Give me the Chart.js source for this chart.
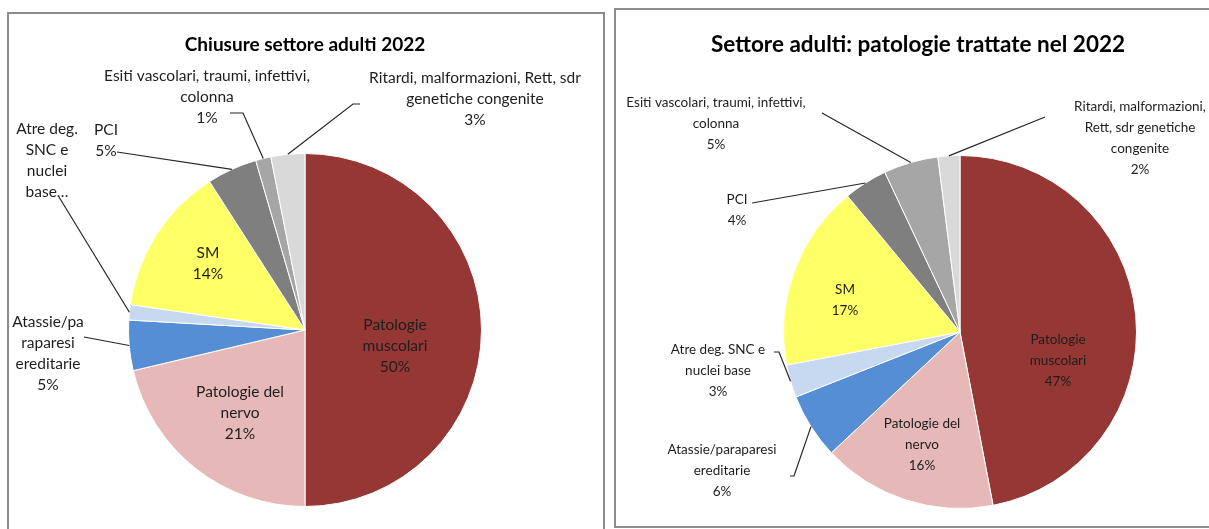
<!DOCTYPE html>
<html>
<head>
<meta charset="utf-8">
<script src="https://cdn.jsdelivr.net/npm/chart.js@4.4.0/dist/chart.umd.min.js"></script>
<style>
  body { margin: 0; background: #fff; overflow: hidden; }
  .panel { position: absolute; border: 2px solid #8c8c8c; box-sizing: border-box; }
  .wrap { position: absolute; top: 0; height: 529px; }
</style>
</head>
<body>
<div class="panel" style="left:7px; top:12px; width:598px; height:540px;"></div>
<div class="panel" style="left:614px; top:8px; width:610px; height:520px;"></div>
<div class="wrap" style="left:0; width:605px;"><canvas id="chiusure"></canvas></div>
<div class="wrap" style="left:605px; width:604px;"><canvas id="trattate"></canvas></div>
<script>
// categories (same order in both charts, clockwise from 12 o'clock)
const categories = [
  "Patologie muscolari",
  "Patologie del nervo",
  "Atassie/paraparesi ereditarie",
  "Atre deg. SNC e nuclei base",
  "SM",
  "PCI",
  "Esiti vascolari, traumi, infettivi, colonna",
  "Ritardi, malformazioni, Rett, sdr genetiche congenite"
];
// share of each category (%)
const chiusure2022 = [50, 21.3, 4.6, 1.4, 13.6, 4.6, 1.4, 3.1];
const trattate2022 = [47, 16, 6, 3, 17, 4, 5, 2];

const sliceColors = ["#953735", "#E6B9B8", "#558ED5", "#C6D9F1", "#FFFF66", "#7F7F7F", "#A6A6A6", "#D9D9D9"];

// label layout, offsets from the pie centre
const leftLabels = [
  { lines: ["Patologie", "muscolari"], dx: 90, dy: -5 },
  { lines: ["Patologie del", "nervo"], dx: -65, dy: 62 },
  { lines: ["Atassie/pa", "raparesi", "ereditarie"], dx: -257, dy: -8, leader: [[-221, 7]] },
  { lines: ["Atre deg.", "SNC e", "nuclei", "base…"], dx: -258, dy: -201, pct: false, leader: [[-246, -133]] },
  { lines: ["SM"], dx: -97, dy: -77 },
  { lines: ["PCI"], dx: -199, dy: -200, leader: [[-188, -178]] },
  { lines: ["Esiti vascolari, traumi, infettivi,", "colonna"], dx: -98, dy: -254, leader: [[-75, -217], [-62, -217]] },
  { lines: ["Ritardi, malformazioni, Rett, sdr", "genetiche congenite"], dx: 170, dy: -252, leader: [[55, -226], [48, -226]] }
];
const rightLabels = [
  { lines: ["Patologie", "muscolari"], dx: 98, dy: 8 },
  { lines: ["Patologie del", "nervo"], dx: -38, dy: 92 },
  { lines: ["Atassie/paraparesi", "ereditarie"], dx: -238, dy: 118, leader: [[-170, 144], [-166, 144]] },
  { lines: ["Atre deg. SNC e", "nuclei base"], dx: -242, dy: 18, leader: [[-186, 20], [-181, 20]] },
  { lines: ["SM"], dx: -115, dy: -42 },
  { lines: ["PCI"], dx: -223, dy: -132, leader: [[-208, -129]] },
  { lines: ["Esiti vascolari, traumi, infettivi,", "colonna"], dx: -244, dy: -229, leader: [[-138, -219]] },
  { lines: ["Ritardi, malformazioni,", "Rett, sdr genetiche", "congenite"], dx: 180, dy: -225, leader: [[85, -215]] }
];

const pieLabels = {
  id: "pieLabels",
  afterDatasetsDraw(chart, args, opts) {
    const ctx = chart.ctx;
    const meta = chart.getDatasetMeta(0);
    const values = chart.data.datasets[0].data;
    const total = values.reduce((a, b) => a + b, 0);
    ctx.save();
    ctx.textAlign = "center";
    ctx.textBaseline = "middle";
    ctx.fillStyle = "#000";
    ctx.font = "bold " + opts.titleSize + "px Lato";
    ctx.fillText(opts.title, opts.titleX, 45);

    ctx.font = opts.labelSize + "px Lato";
    ctx.fillStyle = "#1e1e1e";
    ctx.strokeStyle = "#262626";
    ctx.lineWidth = 1.2;
    opts.labels.forEach((lab, i) => {
      const arc = meta.data[i];
      const cx = arc.x, cy = arc.y;
      const lines = lab.lines.slice();
      if (lab.pct !== false) lines.push(Math.round(values[i] / total * 100) + "%");
      lines.forEach((t, k) => ctx.fillText(t, cx + lab.dx, cy + lab.dy + k * 21));
      if (lab.leader) {
        const mid = (arc.startAngle + arc.endAngle) / 2;
        ctx.beginPath();
        lab.leader.forEach((p, k) => {
          if (k == 0) ctx.moveTo(cx + p[0], cy + p[1]);
          else ctx.lineTo(cx + p[0], cy + p[1]);
        });
        ctx.lineTo(cx + Math.cos(mid) * arc.outerRadius, cy + Math.sin(mid) * arc.outerRadius);
        ctx.stroke();
      }
    });
    ctx.restore();
  }
};

function drawPie(id, values, padding, title, titleX, titleSize, labelSize, labels) {
  new Chart(document.getElementById(id), {
    type: "pie",
    data: {
      labels: categories,
      datasets: [
        {
          data: values,
          backgroundColor: sliceColors,
          borderColor: "#ffffff",
          borderWidth: 1,
        },
      ],
    },
    options: {
      responsive: true,
      maintainAspectRatio: false,
      animation: false,
      layout: { padding: padding },
      plugins: {
        legend: { display: false },
        tooltip: { enabled: false },
        pieLabels: { title: title, titleX: titleX, titleSize: titleSize, labelSize: labelSize, labels: labels },
      },
    },
    plugins: [pieLabels],
  });
}

drawPie("chiusure", chiusure2022, { left: 128, right: 123, top: 153, bottom: 22 }, "Chiusure settore adulti 2022", 305, 19, 15.5, leftLabels);
drawPie("trattate", trattate2022, { left: 178, right: 72, top: 155, bottom: 20 }, "Settore adulti: patologie trattate nel 2022", 313, 22.5, 13.5, rightLabels);
</script>
</body>
</html>
